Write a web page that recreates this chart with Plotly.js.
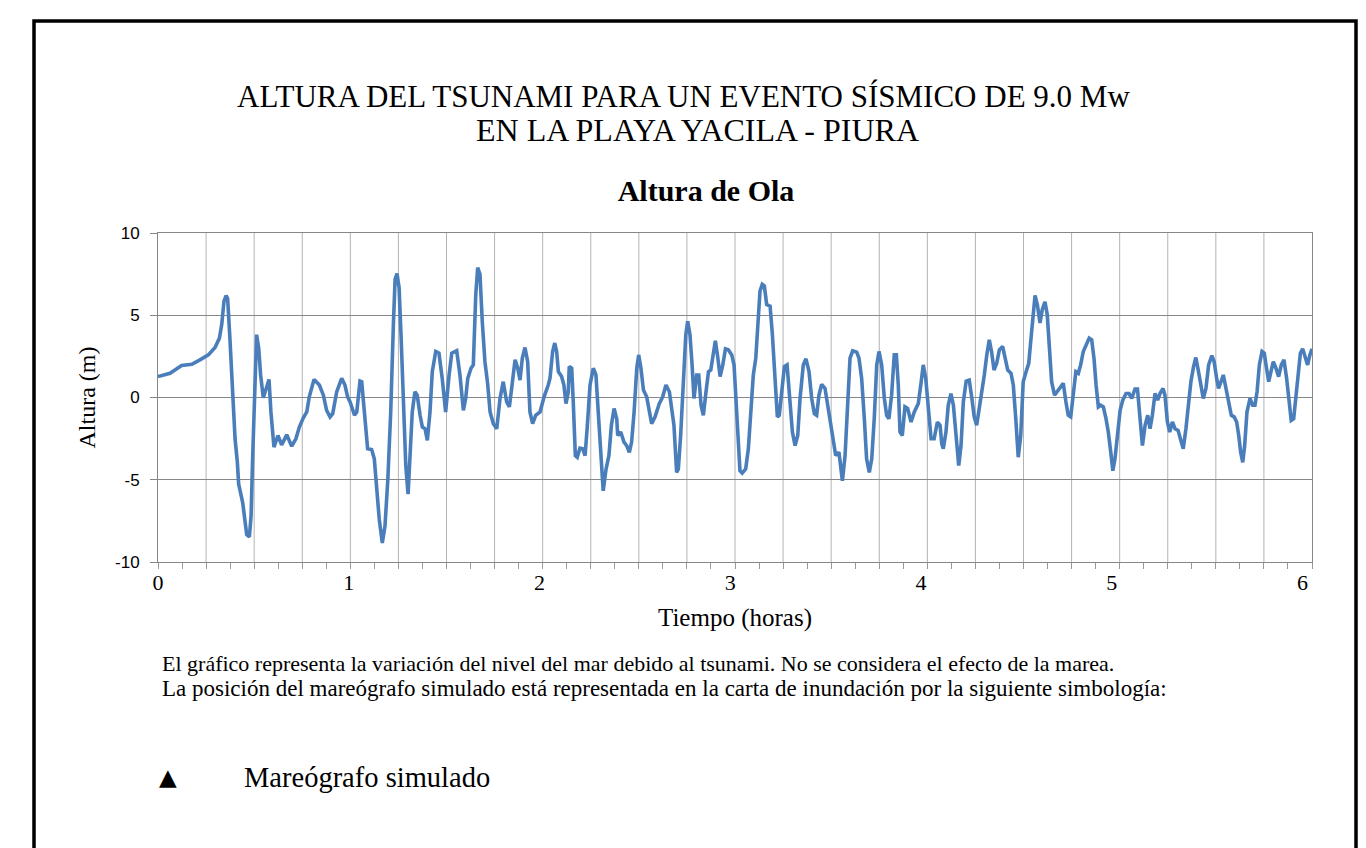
<!DOCTYPE html>
<html>
<head>
<meta charset="utf-8">
<script src="https://cdn.plot.ly/plotly-3.0.1.min.js"></script>
<style>
html,body{margin:0;padding:0;background:#fff;}
#chart{width:1366px;height:848px;}
</style>
</head>
<body>
<div id="chart"></div>
<script>
// ---- data ----
const timeH = [
0.0,0.063,0.124,0.177,0.22,0.264,0.299,0.322,0.334,0.346,0.357,0.365,0.377,0.392,0.404,0.416,0.423,0.444,0.456,0.465,
0.479,0.488,0.496,0.505,0.517,0.528,0.538,0.552,0.566,0.582,0.592,0.608,0.629,0.648,0.675,0.701,0.723,0.741,0.762,0.78,
0.793,0.818,0.846,0.867,0.884,0.902,0.916,0.937,0.963,0.98,0.994,1.007,1.03,1.042,1.059,1.068,1.082,1.099,1.12,1.134,
1.147,1.16,1.176,1.19,1.205,1.22,1.234,1.243,1.253,1.264,1.274,1.286,1.299,1.311,1.321,1.333,1.347,1.359,1.374,1.386,
1.4,1.412,1.426,1.438,1.456,1.473,1.49,1.508,1.526,1.54,1.566,1.583,1.601,1.613,1.624,1.641,1.653,1.666,1.676,1.688,
1.7,1.714,1.728,1.741,1.758,1.776,1.793,1.81,1.828,1.842,1.854,1.872,1.886,1.898,1.91,1.924,1.938,1.95,1.964,1.98,
2.003,2.024,2.046,2.055,2.069,2.08,2.09,2.099,2.116,2.128,2.139,2.151,2.156,2.169,2.177,2.188,2.198,2.212,2.227,2.239,
2.251,2.265,2.282,2.296,2.308,2.321,2.334,2.349,2.364,2.377,2.391,2.405,2.41,2.426,2.443,2.457,2.471,2.483,2.496,2.51,
2.52,2.532,2.545,2.562,2.576,2.588,2.606,2.628,2.646,2.663,2.681,2.693,2.705,2.719,2.728,2.74,2.754,2.767,2.777,2.789,
2.8,2.81,2.824,2.835,2.847,2.859,2.873,2.886,2.898,2.912,2.922,2.933,2.947,2.961,2.975,2.99,3.008,3.02,3.034,3.051,
3.063,3.081,3.095,3.109,3.121,3.134,3.144,3.156,3.168,3.179,3.191,3.209,3.221,3.235,3.247,3.257,3.27,3.284,3.298,3.313,
3.326,3.34,3.354,3.366,3.383,3.397,3.413,3.427,3.441,3.453,3.465,3.479,3.497,3.511,3.528,3.54,3.553,3.57,3.588,3.602,
3.616,3.628,3.642,3.663,3.675,3.689,3.703,3.715,3.729,3.742,3.755,3.768,3.78,3.794,3.808,3.82,3.832,3.846,3.86,3.871,
3.881,3.89,3.902,3.916,3.93,3.948,3.965,3.986,3.999,4.012,4.025,4.039,4.053,4.069,4.086,4.1,4.109,4.117,4.131,4.143,
4.157,4.17,4.183,4.198,4.21,4.222,4.237,4.253,4.267,4.279,4.292,4.306,4.32,4.332,4.345,4.358,4.37,4.383,4.397,4.411,
4.428,4.441,4.455,4.472,4.484,4.497,4.51,4.523,4.536,4.551,4.565,4.577,4.589,4.598,4.61,4.624,4.636,4.65,4.662,4.673,
4.685,4.7,4.715,4.733,4.746,4.76,4.772,4.785,4.799,4.812,4.825,4.837,4.851,4.868,4.882,4.895,4.907,4.918,4.93,4.942,
4.956,4.97,4.982,4.995,5.006,5.017,5.03,5.044,5.058,5.075,5.091,5.105,5.122,5.135,5.147,5.161,5.175,5.189,5.201,5.213,
5.227,5.241,5.253,5.269,5.279,5.292,5.304,5.318,5.332,5.348,5.36,5.375,5.389,5.403,5.415,5.429,5.441,5.455,5.468,5.48,
5.494,5.508,5.525,5.537,5.55,5.56,5.573,5.585,5.599,5.613,5.627,5.642,5.655,5.666,5.676,5.687,5.697,5.709,5.725,5.739,
5.751,5.762,5.774,5.788,5.8,5.809,5.823,5.835,5.847,5.861,5.875,5.889,5.903,5.917,5.931,5.941,5.954,5.966,5.978,5.989,
6.001,6.015,6.027,6.039,6.05
];
const alturaM = [
1.27,1.47,1.94,2.02,2.29,2.59,3.04,3.61,4.43,5.86,6.2,6.02,3.6,-0.06,-2.51,-3.94,-5.27,-6.39,-7.41,-8.33,
-8.47,-7.2,-3.73,-0.06,3.82,3.0,1.37,-0.02,0.55,1.1,-0.88,-3.02,-2.31,-2.88,-2.27,-2.96,-2.51,-1.8,-1.24,-0.88,
0.04,1.1,0.76,0.14,-0.78,-1.18,-0.98,0.35,1.16,0.76,0.04,-0.27,-1.08,-0.88,1.0,0.96,-0.88,-3.12,-3.16,-3.73,
-5.57,-7.41,-8.84,-7.82,-4.96,-0.88,4.43,7.18,7.53,6.67,3.82,-0.47,-4.14,-5.88,-3.73,-0.88,0.35,0.14,-1.08,-1.8,
-1.9,-2.61,-0.88,1.57,2.8,2.69,1.16,-0.88,1.37,2.69,2.84,1.37,-0.78,-0.06,1.16,1.78,1.98,6.27,7.9,7.49,
4.63,2.18,0.86,-0.88,-1.59,-1.9,-0.06,0.96,-0.27,-0.57,0.55,2.29,1.78,1.06,2.39,3.04,2.18,-0.88,-1.59,-1.08,
-0.88,0.04,0.76,1.16,2.8,3.31,2.8,1.57,1.27,0.76,-0.37,0.35,1.88,1.78,-0.27,-3.53,-3.63,-3.08,-3.12,-3.53,
-1.69,0.76,1.78,1.37,-0.88,-3.73,-5.67,-4.35,-3.53,-1.69,-0.67,-1.29,-2.31,-2.1,-2.71,-2.92,-3.33,-2.71,-0.88,1.78,
2.59,1.78,0.45,0.04,-0.78,-1.59,-1.18,-0.37,0.04,0.76,0.35,-0.67,-1.69,-4.55,-4.35,-2.31,1.37,3.82,4.63,3.82,
1.98,-0.06,1.37,1.37,-0.47,-1.08,0.35,1.57,1.67,2.8,3.45,2.59,1.27,1.98,2.96,2.9,2.59,1.98,-0.88,-4.45,
-4.59,-4.35,-3.12,-0.88,1.37,2.39,4.43,6.47,6.88,6.78,5.65,5.55,3.82,1.37,-1.18,-1.08,0.55,1.88,1.98,-0.06,
-2.1,-2.92,-2.31,-0.06,1.98,2.35,1.57,-0.06,-0.98,-1.08,0.14,0.8,0.55,-0.47,-1.69,-2.71,-3.53,-3.33,-5.06,-3.53,
-0.06,2.39,2.84,2.76,2.39,1.16,-1.29,-3.73,-4.55,-3.73,-1.29,1.98,2.8,1.98,-0.06,-1.08,-1.29,0.14,2.59,2.59,
0.76,-2.1,-2.31,-0.57,-0.67,-1.49,-0.88,-0.37,0.76,1.98,1.16,-0.88,-2.51,-2.51,-1.49,-1.69,-2.82,-3.12,-2.1,-0.47,
0.24,-0.47,-2.51,-4.14,-2.92,-0.27,1.0,1.06,-0.06,-1.18,-1.69,-0.67,0.24,1.37,2.59,3.51,2.8,1.67,2.08,2.9,
3.1,2.39,1.67,1.47,0.76,-1.29,-3.63,-2.31,0.96,1.57,2.08,3.61,5.45,6.2,5.65,4.53,5.35,5.82,5.04,3.0,
0.96,0.14,0.35,0.65,0.86,-0.27,-1.08,-1.18,0.35,1.57,1.47,1.98,2.8,3.31,3.61,3.51,2.39,0.76,-0.57,-0.47,
-0.57,-1.29,-2.1,-3.33,-4.45,-3.73,-2.1,-0.78,-0.16,0.24,0.24,-0.06,0.51,0.51,-1.08,-2.92,-1.69,-1.08,-1.9,-1.08,
0.24,-0.16,0.24,0.55,0.14,-1.49,-2.1,-1.49,-1.9,-2.0,-2.51,-3.12,-1.9,-0.27,0.96,1.88,2.43,1.57,0.55,-0.06,
0.55,1.98,2.55,2.18,1.16,0.55,0.96,1.37,0.55,-0.16,-1.08,-1.18,-1.49,-2.31,-3.33,-3.94,-2.92,-0.88,-0.06,-0.47,
-0.47,0.35,1.98,2.8,2.69,1.98,0.96,1.57,2.18,1.78,1.27,1.98,2.29,1.16,-0.47,-1.39,-1.29,0.14,1.57,2.69,
2.96,2.49,1.98,2.59,2.96
];
const xTickVals = [0, 1, 2, 3, 4, 5, 6];
const xTickText = ['0', '1', '2', '3', '4', '5', '6'];
const yTickVals = [-10, -5, 0, 5, 10];
const yTickText = ['-10', '-5', '0', '5', '10'];
const headerLines = ['ALTURA DEL TSUNAMI PARA UN EVENTO SÍSMICO DE 9.0 Mw', 'EN LA PLAYA YACILA - PIURA'];
const chartTitle = 'Altura de Ola';
const xTitle = 'Tiempo (horas)';
const yTitle = 'Altura (m)';
const noteLines = [
  'El gráfico representa la variación del nivel del mar debido al tsunami. No se considera el efecto de la marea.',
  'La posición del mareógrafo simulado está representada en la carta de inundación por la siguiente simbología:'
];
const legendSymbol = '▲';
const legendLabel = 'Mareógrafo simulado';

// ---- geometry helpers (page pixels -> paper coords) ----
const W = 1366, H = 848;
const M = {l: 158, r: 54, t: 233, b: 286};
const PW = W - M.l - M.r, PH = H - M.t - M.b;
const px = x => (x - M.l) / PW;
const py = y => (H - M.b - y) / PH;

const SERIF = 'Liberation Serif, Times New Roman, serif';
const SANS = 'Liberation Sans, Arial, sans-serif';
const XMAX = 6.05;
const NGRID = 24;
const GRIDSTEP = XMAX / NGRID;

const trace = {
  x: timeH, y: alturaM, type: 'scatter', mode: 'lines',
  line: {color: '#4A7EBB', width: 3.6, shape: 'linear'},
  hoverinfo: 'x+y'
};

const annotations = [
  {text: headerLines[0], x: px(683), y: py(97), size: 31},
  {text: headerLines[1], x: px(697), y: py(130), size: 32}
].map(a => ({text: a.text, x: a.x, y: a.y, xref: 'paper', yref: 'paper', xanchor: 'center', yanchor: 'middle',
  showarrow: false, font: {family: SERIF, size: a.size, color: '#000'}}));

annotations.push(
  {text: noteLines[0], x: px(160), y: py(663), xref: 'paper', yref: 'paper', xanchor: 'left', yanchor: 'middle',
   showarrow: false, font: {family: SERIF, size: 22, color: '#000'}},
  {text: noteLines[1], x: px(160), y: py(688), xref: 'paper', yref: 'paper', xanchor: 'left', yanchor: 'middle',
   showarrow: false, font: {family: SERIF, size: 23, color: '#000'}},
  {text: legendSymbol, x: px(168), y: py(777), xref: 'paper', yref: 'paper', xanchor: 'center', yanchor: 'middle',
   showarrow: false, font: {family: 'DejaVu Sans', size: 23, color: '#000'}},
  {text: legendLabel, x: px(242), y: py(777), xref: 'paper', yref: 'paper', xanchor: 'left', yanchor: 'middle',
   showarrow: false, font: {family: SERIF, size: 28.5, color: '#000'}}
);

// vertical gridlines every 1/24 of the time range
const gridShapes = [];
for (let k = 1; k < NGRID; k++) {
  gridShapes.push({type: 'line', xref: 'x', yref: 'paper', x0: k * GRIDSTEP, x1: k * GRIDSTEP, y0: 0, y1: 1,
                   line: {color: '#b3b3b3', width: 1}, layer: 'below'});
}

const layout = {
  width: W, height: H,
  margin: {l: M.l, r: M.r, t: M.t, b: M.b, pad: 0},
  paper_bgcolor: '#ffffff', plot_bgcolor: '#ffffff',
  showlegend: false,
  title: {text: '<b>' + chartTitle + '</b>', xref: 'paper', x: px(706), xanchor: 'center',
          yref: 'container', y: 1 - 190 / H, yanchor: 'middle',
          font: {family: SERIF, size: 30, color: '#000'}},
  xaxis: {
    range: [0, XMAX],
    tickmode: 'array', tickvals: xTickVals, ticktext: xTickText,
    ticks: 'outside', ticklen: 1, tickcolor: 'rgba(0,0,0,0)',
    showgrid: false,
    tickfont: {family: SERIF, size: 22, color: '#000'},
    minor: {tickmode: 'linear', tick0: 0, dtick: GRIDSTEP / 2, ticks: 'outside', ticklen: 6, tickcolor: '#999',
            showgrid: false},
    showline: true, linecolor: '#878787', linewidth: 1, mirror: true,
    zeroline: false, fixedrange: true,
    title: {text: xTitle, font: {family: SERIF, size: 25, color: '#000'}, standoff: 14}
  },
  yaxis: {
    range: [-10, 10], tickmode: 'array', tickvals: yTickVals, ticktext: yTickText,
    showgrid: true, gridcolor: '#878787', gridwidth: 1,
    ticks: 'outside', ticklen: 7, tickcolor: '#878787',
    ticklabelstandoff: 7,
    showline: true, linecolor: '#878787', linewidth: 1, mirror: true,
    zeroline: false,
    tickfont: {family: SANS, size: 17, color: '#000'},
    title: {text: yTitle, font: {family: SERIF, size: 24, color: '#000'}, standoff: 12},
    fixedrange: true
  },
  annotations: annotations,
  shapes: gridShapes.concat([
    {type: 'rect', xref: 'paper', yref: 'paper',
     x0: px(34), x1: px(1356), y0: py(860), y1: py(21),
     line: {color: '#000', width: 3.5}, fillcolor: 'rgba(0,0,0,0)', layer: 'above'}
  ])
};

Plotly.newPlot('chart', [trace], layout, {displayModeBar: false, staticPlot: true});
</script>
</body>
</html>
